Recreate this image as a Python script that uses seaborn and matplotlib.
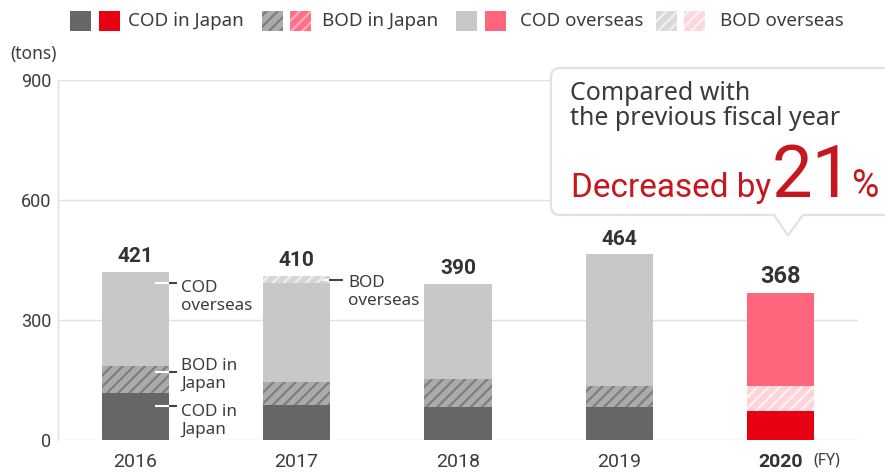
import matplotlib
matplotlib.use("Agg")
import matplotlib.pyplot as plt
import seaborn as sns
import pandas as pd
import numpy as np
from matplotlib.patches import FancyBboxPatch, Polygon, Rectangle

# ---------------- data ----------------
years = ["2016", "2017", "2018", "2019", "2020"]
cod_japan = [117, 88, 82, 82, 73]
bod_japan = [69, 58, 70, 53, 62]
cod_overseas = [235, 246, 238, 329, 233]
bod_overseas = [0, 18, 0, 0, 0]
totals = [421, 410, 390, 464, 368]
yticks = [0, 300, 600, 900]
legend_labels = ["COD in Japan", "BOD in Japan", "COD overseas", "BOD overseas"]

# ---------------- style ----------------
sns.set_theme(style="white")
plt.rcParams['font.family'] = ['Noto Sans', 'DejaVu Sans']
plt.rcParams['hatch.linewidth'] = 1.6

W, H = 885, 473
fig = plt.figure(figsize=(W / 100, H / 100), dpi=100)
ax = fig.add_axes([58 / W, 1 - 440 / H, 800 / W, 360 / H])

TXT = "#3c3c3c"
GRID = "#e0e0e0"

c1 = np.array(cod_japan)
c2 = c1 + np.array(bod_japan)
c3 = c2 + np.array(cod_overseas)
c4 = c3 + np.array(bod_overseas)

# layer: cumulative values, face colours (gray years, 2020), hatch colours or None
layers = [
    (c4, ["#d6d6d6"] * 4 + ["#ffd6dc"], ["#efefef"] * 4 + ["#fff2f4"]),
    (c3, ["#c8c8c8"] * 4 + ["#ff667e"], None),
    (c2, ["#ababab"] * 4 + ["#ffd3da"], ["#7e7e7e"] * 4 + ["#fff3f5"]),
    (c1, ["#666666"] * 4 + ["#e60012"], None),
]

for vals, faces, hatches in layers:
    df = pd.DataFrame({"year": years, "value": vals})
    n0 = len(ax.patches)
    sns.barplot(data=df, x="year", y="value", hue="year", order=years,
                hue_order=years, palette=dict(zip(years, faces)),
                legend=False, width=0.415, saturation=1, errorbar=None,
                linewidth=0, ax=ax)
    new = sorted(ax.patches[n0:], key=lambda p: p.get_x())
    for i, p in enumerate(new):
        p.set_linewidth(0)
        if hatches is not None:
            p.set_hatch("///")
            p.set_edgecolor(hatches[i])

ax.set_xlim(-0.477, 4.477)
ax.set_ylim(0, 900)
ax.set_xlabel("")
ax.set_ylabel("")
ax.set_yticks(yticks)
ax.set_yticklabels([str(t) for t in yticks])
ax.yaxis.grid(True, color=GRID, lw=1)
ax.set_axisbelow(True)
for s in ["top", "right", "bottom"]:
    ax.spines[s].set_visible(False)
ax.spines["left"].set_color(GRID)
ax.spines["left"].set_linewidth(1)
ax.tick_params(axis="y", length=0, pad=5, labelsize=13, labelcolor=TXT)
ax.tick_params(axis="x", length=0, pad=9, labelsize=14, labelcolor=TXT)
for t in ax.get_yticklabels():
    t.set_fontfamily("Roboto")
ax.set_xticks(range(len(years)))
ax.set_xticklabels(years)
for t in ax.get_xticklabels():
    t.set_fontfamily("Roboto")
    if t.get_text() == "2020":
        t.set_fontweight("bold")
        t.set_color("#333333")

# value labels
for i, tot in enumerate(totals):
    ax.annotate(str(tot), (i, tot), xytext=(0, 7), textcoords="offset points",
                ha="center", va="baseline", fontfamily="Roboto",
                fontweight="bold", fontsize=17 if i == 4 else 15,
                color="#333333")

# ---------------- overlay (pixel coords) ----------------
ov = fig.add_axes([0, 0, 1, 1], zorder=10)
ov.set_xlim(0, W)
ov.set_ylim(H, 0)
ov.axis("off")

# legend
leg = [
    (70, 99, 128, dict(fc="#666666"), dict(fc="#e60012")),
    (262, 290, 322, dict(fc="#ababab", hc="#7e7e7e"), dict(fc="#ff7088", hc="#ffadb9")),
    (456, 485, 520, dict(fc="#c8c8c8"), dict(fc="#ff667e")),
    (656, 684, 720, dict(fc="#d9d9d9", hc="#f0f0f0"), dict(fc="#ffd6dc", hc="#fff2f4")),
]
for (xa, xb, xt, sa, sb), lab in zip(leg, legend_labels):
    for xx, st in [(xa, sa), (xb, sb)]:
        r = Rectangle((xx, 11), 21, 20, facecolor=st["fc"], lw=0)
        if "hc" in st:
            r.set_hatch("///")
            r.set_edgecolor(st["hc"])
        ov.add_patch(r)
    ov.text(xt, 21.5, lab, ha="left", va="center", fontsize=13.5, color=TXT)

# unit label
ov.text(10, 54, "(tons)", ha="left", va="center", fontsize=12.5, color=TXT)
# (FY)
ov.text(813, 460, "(FY)", ha="left", va="center", fontsize=11.5, color=TXT)

# callouts
def callout(xw0, xw1, xd1, y, xt, lines, bases):
    ov.plot([xw0, xw1], [y, y], color="white", lw=1.5, solid_capstyle="butt")
    ov.plot([xw1, xd1], [y, y], color="#444444", lw=1.5, solid_capstyle="butt")
    for ln, b in zip(lines, bases):
        ov.text(xt, b, ln, ha="left", va="baseline", fontsize=12.3, color=TXT)

callout(155, 169, 177, 283, 181, ["COD", "overseas"], [291.5, 310])
callout(155, 169, 177, 371.5, 181, ["BOD in", "Japan"], [369.5, 388])
callout(155, 169, 177, 405.5, 181, ["COD in", "Japan"], [416, 434])
callout(323, 329, 343, 279.5, 348, ["BOD", "overseas"], [287, 305])

# annotation box
box = FancyBboxPatch((551, 68), 380, 147, boxstyle="round,pad=0,rounding_size=9",
                     facecolor="white", edgecolor="#e2e2e2", lw=1.6, zorder=2)
ov.add_patch(box)
ov.add_patch(Polygon([(774, 213.5), (788, 235), (803, 213.5)], closed=True,
                     facecolor="white", edgecolor="none", zorder=3))
ov.plot([774, 788, 803], [215, 235.5, 215], color="#e2e2e2", lw=1.6, zorder=4)

ov.text(570, 100, "Compared with", ha="left", va="baseline", fontsize=18,
        color="#3a3a3a", zorder=5)
ov.text(570, 125, "the previous fiscal year", ha="left", va="baseline",
        fontsize=18, color="#3a3a3a", zorder=5)
RED = "#c8161e"
ov.text(571, 197, "Decreased by", ha="left", va="baseline", fontsize=24,
        fontfamily="Roboto", color=RED, zorder=5)
ov.text(772, 197, "21", ha="left", va="baseline", fontsize=52,
        fontfamily="Roboto", color=RED, zorder=5)
ov.text(851, 197, "%", ha="left", va="baseline", fontsize=27,
        fontfamily="Roboto", color=RED, zorder=5)

fig.savefig("out.png", dpi=100)
